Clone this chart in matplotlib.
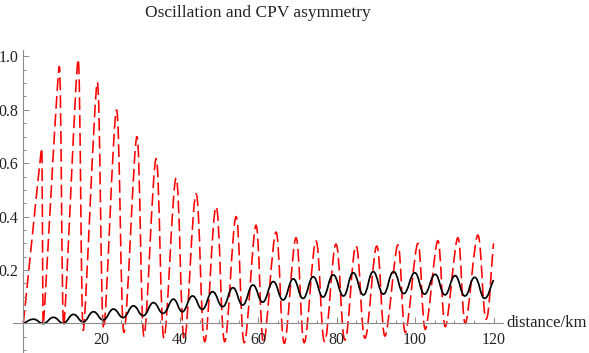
import numpy as np
import matplotlib
matplotlib.use("Agg")
import matplotlib.pyplot as plt
from matplotlib.path import Path
from matplotlib.patches import PathPatch
from matplotlib.ticker import MultipleLocator, FixedLocator
from matplotlib.transforms import blended_transform_factory

# --- values (km, value) ---
red_start = (0.0, 0.0)
red_end = (120.0, 0.30)
red_peak_km = [4.7, 9.2, 14.0, 18.9, 23.8, 29.0, 33.9, 39.0, 44.1, 49.2, 54.3, 59.4,
               64.5, 69.6, 74.7, 79.8, 84.9, 90.2, 95.6, 100.7, 105.8, 110.9, 116.0]
red_peak_val = [0.657, 0.963, 0.99, 0.904, 0.80, 0.70, 0.617, 0.545, 0.485, 0.437, 0.40, 0.368,
                0.342, 0.321, 0.309, 0.297, 0.291, 0.29, 0.294, 0.30, 0.31, 0.321, 0.331]
red_trough_km = [5.1, 10.3, 15.3, 20.5, 25.7, 30.8, 35.9, 41.1, 46.3, 51.4, 56.4, 61.3,
                 66.6, 71.7, 76.9, 82.1, 87.2, 92.3, 97.5, 102.6, 107.7, 112.8, 118.1]
red_trough_val = [-0.01, -0.01, -0.027, -0.02, -0.034, -0.047, -0.055, -0.062, -0.068, -0.068,
                  -0.072, -0.074, -0.074, -0.072, -0.068, -0.062, -0.055, -0.047, -0.034,
                  -0.022, -0.012, 0.0, 0.016]

black_start = (0.0, 0.0)
black_end = (120.0, 0.163)
black_peak_km = [2.6, 7.7, 12.8, 17.9, 23.0, 28.1, 33.2, 38.3, 43.2, 48.3, 53.5, 58.6,
                 63.8, 68.9, 74.0, 79.1, 84.2, 89.3, 94.5, 99.9, 105.1, 110.2, 115.2]
black_peak_val = [0.016, 0.023, 0.034, 0.044, 0.054, 0.066, 0.078, 0.091, 0.103, 0.119, 0.134, 0.144,
                  0.157, 0.167, 0.175, 0.182, 0.190, 0.194, 0.194, 0.190, 0.184, 0.179, 0.173]
black_trough_km = [5.1, 10.2, 15.3, 20.4, 25.5, 30.6, 35.7, 40.6, 45.7, 50.9, 56.0, 61.1,
                   66.3, 71.4, 76.5, 81.7, 86.8, 91.9, 97.1, 102.4, 107.6, 112.7, 117.7]
black_trough_val = [0.0, 0.001, 0.006, 0.013, 0.022, 0.029, 0.038, 0.044, 0.053, 0.063, 0.069, 0.080,
                    0.088, 0.094, 0.099, 0.103, 0.107, 0.110, 0.112, 0.110, 0.107, 0.103, 0.094]

title = "Oscillation and CPV asymmetry"
x_label = "distance/km"


def curve_path(start, peaks_x, peaks_y, troughs_x, troughs_y, end, k=0.45):
    # extrema joined by cubic bezier segments, flat tangent at each extremum
    pts = [start] + sorted(zip(peaks_x + troughs_x, peaks_y + troughs_y)) + [end]
    pts = np.array(pts, dtype=float)
    n = len(pts)
    dx = np.diff(pts[:, 0])
    verts = [tuple(pts[0])]
    codes = [Path.MOVETO]
    for i in range(n - 1):
        p0, p1 = pts[i], pts[i + 1]
        if i == 0:
            c0 = p0 + 0.36 * (p1 - p0)
        else:
            h = k * min(dx[i - 1], dx[i])
            c0 = (p0[0] + h, p0[1])
        if i == n - 2:
            c1 = p1 - 0.36 * (p1 - p0)
        else:
            h = k * min(dx[i], dx[i + 1])
            c1 = (p1[0] - h, p1[1])
        verts += [tuple(c0), tuple(c1), tuple(p1)]
        codes += [Path.CURVE4] * 3
    return Path(verts, codes)


plt.rcParams['font.family'] = ['Liberation Serif', 'DejaVu Serif']

fig = plt.figure(figsize=(5.89, 3.53), dpi=100)
ax = fig.add_axes([13.3 / 589, 0.0, 490 / 589, 303 / 353])
ax.set_xlim(-2.55, 122.5)
ax.set_ylim(-0.1105, 1.024)

red = curve_path(red_start, red_peak_km, red_peak_val, red_trough_km, red_trough_val, red_end)
ax.add_patch(PathPatch(red, fill=False, edgecolor='#ff0000', lw=1.15,
                       linestyle=(0, (8, 3.2)), capstyle='butt'))
black = curve_path(black_start, black_peak_km, black_peak_val, black_trough_km, black_trough_val, black_end)
ax.add_patch(PathPatch(black, fill=False, edgecolor='black', lw=1.25))

axis_gray = '#8c8c8c'
for side in ['top', 'right']:
    ax.spines[side].set_visible(False)
ax.spines['left'].set_position(('data', 0))
ax.spines['bottom'].set_position(('data', 0))
for side in ['left', 'bottom']:
    ax.spines[side].set_color(axis_gray)
    ax.spines[side].set_linewidth(0.8)

ax.xaxis.set_major_locator(FixedLocator([20, 40, 60, 80, 100, 120]))
ax.xaxis.set_minor_locator(MultipleLocator(5))
ax.yaxis.set_major_locator(FixedLocator([0.2, 0.4, 0.6, 0.8, 1.0]))
ax.yaxis.set_minor_locator(MultipleLocator(0.05))
ax.set_xticklabels(['20', '40', '60', '80', '100', '120'])
ax.set_yticklabels(['0.2', '0.4', '0.6', '0.8', '1.0'])
ax.tick_params(which='both', direction='in', color=axis_gray, width=0.7, labelsize=11.5,
               labelcolor='#222222')
ax.tick_params(which='major', length=4)
ax.tick_params(which='minor', length=2.3)
ax.tick_params(axis='x', pad=6)
ax.tick_params(axis='y', pad=3.5)

# axis label sits just right of the x-axis end, level with y = 0
label_tr = blended_transform_factory(fig.transFigure, ax.transData)
ax.text(506 / 589, 0.0, x_label, transform=label_tr, ha='left', va='center',
        fontsize=12, color='#222222', clip_on=False)
fig.text((13.3 + 245) / 589, 1 - 13 / 353, title, ha='center', va='center', fontsize=12.5,
         color='#222222')

fig.savefig("out.png", dpi=100)
